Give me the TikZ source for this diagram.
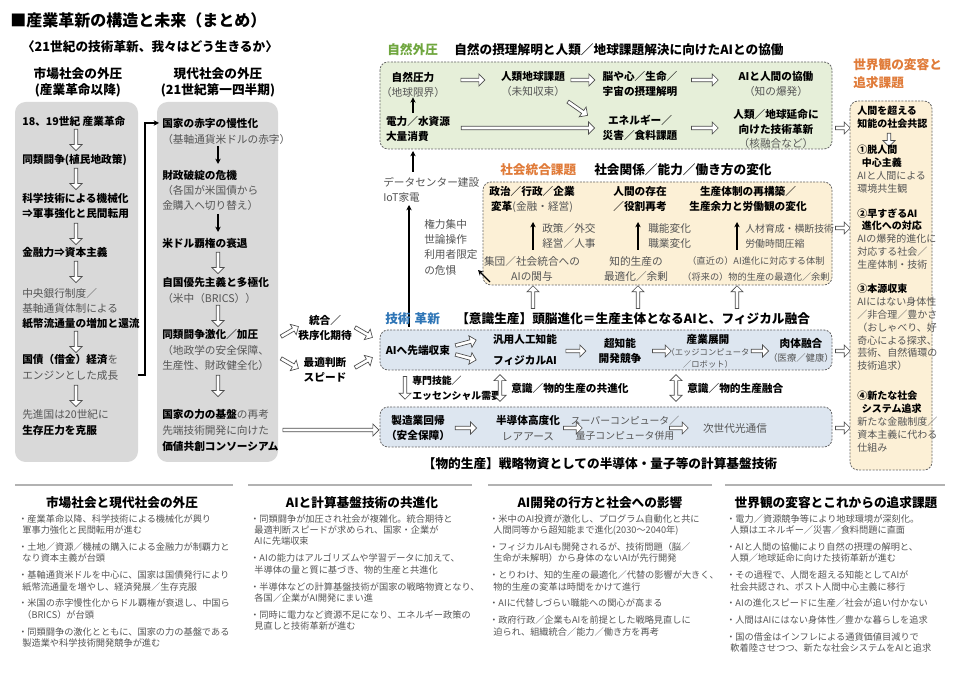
\documentclass[tikz,border=0pt]{standalone}
\usepackage{fontspec}
\setmainfont{Noto Sans CJK JP}
\usetikzlibrary{shapes.arrows,arrows.meta}
\definecolor{tg}{HTML}{555555}
\definecolor{bxg}{HTML}{D9D9D9}
\definecolor{grn}{HTML}{E6EFD9}
\definecolor{org}{HTML}{FCF0D6}
\definecolor{blu}{HTML}{DDE6F0}
\definecolor{hgrn}{HTML}{6FA63E}
\definecolor{horg}{HTML}{E07B39}
\definecolor{hblu}{HTML}{2E75B6}
\tikzset{
 t/.style={inner sep=0,font=\fontsize{8}{11.5}\selectfont},
 b/.style={t,font=\fontsize{8}{11.5}\selectfont\bfseries},
 g/.style={t,text=tg},
 r/.style={inner sep=0,font=\fontsize{7.5}{9.6}\selectfont,align=left,anchor=north west},
 s/.style={inner sep=0,font=\fontsize{6.9}{8.6}\selectfont,text=tg,align=left,anchor=north west},
 hd/.style={inner sep=0,font=\fontsize{9.5}{12}\selectfont\bfseries},
 harrow/.style={single arrow,draw=black!70,fill=white,line width=0.5pt,minimum width=9pt,single arrow head extend=2pt,inner sep=0.6pt,single arrow head indent=0pt},
 dbox/.style={draw=black!60,dashed,dash pattern=on 1.5pt off 1pt,line width=0.6pt,rounded corners=6pt},
 gbox/.style={fill=bxg,rounded corners=8pt},
 barr/.style={-{Stealth[length=4pt,width=4pt]},line width=0.9pt},
 dharrow/.style={double arrow,draw=black!70,fill=white,line width=0.5pt,minimum width=9pt,double arrow head extend=2pt,inner sep=0.6pt,double arrow head indent=0pt,rotate=90},
}
\newcommand\HA[4]{\node[harrow,minimum height=#3,rotate=#4] at (#1,#2) {};}
\begin{document}
\begin{tikzpicture}[x=0.75pt,y=-0.75pt]
\useasboundingbox (0,0) rectangle (960,680);
\fill[white] (0,0) rectangle (960,680);
% titles
\node[anchor=west,inner sep=0,font=\fontsize{12}{14}\selectfont\bfseries] (ttl) at (10,20) {■産業革新の構造と未来（まとめ）};
\node[inner sep=0,font=\fontsize{9.5}{12}\selectfont\bfseries] (sub) at (150,47) {〈21世紀の技術革新、我々はどう生きるか〉};
\node[hd,align=center] (lh) at (78,82) {市場社会の外圧\\(産業革命以降)};
\node[hd,align=center] (mh) at (218,82) {現代社会の外圧\\(21世紀第一四半期)};
% gray boxes
\fill[gbox] (15,102) rectangle (138,462);
\fill[gbox] (157,102) rectangle (278,462);
% left column
\node[b,anchor=west] (l1) at (22,121) {18、19世紀 産業革命};
\HA{76}{139}{16pt}{-90}
\node[b,anchor=west] (l2) at (22,160) {同類闘争(植民地政策)};
\HA{76}{178}{16pt}{-90}
\node[b,anchor=west,align=left] (l3) at (22,206) {科学技術による機械化\\⇒軍事強化と民間転用};
\HA{76}{233}{16pt}{-90}
\node[b,anchor=west] (l4) at (22,252) {金融力⇒資本主義};
\HA{76}{271}{16pt}{-90}
\node[g,anchor=west,align=left] (l5) at (22,301) {中央銀行制度／\\基軸通貨体制による};
\node[b,anchor=west] (l5b) at (22,324) {紙幣流通量の増加と還流};
\HA{76}{341}{16pt}{-90}
\node[t,anchor=west] (l6) at (22,359) {\bfseries 国債（借金）経済\textcolor{tg}{\mdseries を}};
\node[g,anchor=west] (l6b) at (22,375) {エンジンとした成長};
\HA{76}{395}{16pt}{-90}
\node[g,anchor=west] (l7) at (22,414) {先進国は20世紀に};
\node[b,anchor=west] (l7b) at (22,430) {生存圧力を克服};
\draw[barr] (138,375) -- (145,375) -- (145,123) -- (159,123);
% middle column
\node[b,anchor=west] (m1) at (162,123) {国家の赤字の慢性化};
\node[g,anchor=west] (m1b) at (162,139) {（基軸通貨米ドルの赤字）};
\draw[barr] (218,146) -- (218,164);
\node[b,anchor=west] (m2) at (162,175) {財政破綻の危機};
\node[g,anchor=west,align=left] (m2b) at (162,198) {（各国が米国債から\\金購入へ切り替え）};
\draw[barr] (218,214) -- (218,232);
\node[b,anchor=west] (m3) at (162,243) {米ドル覇権の衰退};
\HA{218}{262}{16pt}{-90}
\node[b,anchor=west] (m4) at (162,282) {自国優先主義と多極化};
\node[g,anchor=west] (m4b) at (162,298) {（米中（BRICS））};
\HA{218}{315}{16pt}{-90}
\node[b,anchor=west] (m5) at (162,334) {同類闘争激化／加圧};
\node[g,anchor=west,align=left] (m5b) at (162,358) {（地政学の安全保障、\\生産性、財政健全化）};
\HA{218}{385}{16pt}{-90}
\node[t,anchor=west] (m6) at (162,414) {\bfseries 国家の力の基盤\textcolor{tg}{\mdseries の再考}};
\node[g,anchor=west] (m6b) at (162,430) {先端技術開発に向けた};
\node[b,anchor=west] (m6c) at (162,446) {価値共創コンソーシアム};
% middle connectors
\node[b,align=center] (tg1) at (325,328) {統合／\\秩序化期待};
\node[b,align=center] (tg2) at (325,370) {最適判断\\スピード};
\HA{289}{332}{15pt}{30}
\HA{363}{332}{15pt}{-30}
\HA{289}{363}{15pt}{-30}
\HA{363}{363}{15pt}{30}
\HA{330}{430}{72pt}{0}
% green box
\node[anchor=west,inner sep=0,font=\fontsize{9.5}{12}\selectfont\bfseries,text=hgrn] (gh) at (387,50) {自然外圧};
\node[anchor=west,inner sep=0,font=\fontsize{9.5}{12}\selectfont\bfseries] (gh2) at (454,50) {自然の摂理解明と人類／地球課題解決に向けたAIとの協働};
\draw[dbox,fill=grn] (380,62) rectangle (832,149);
\node[b] (n1) at (413,77) {自然圧力};
\node[g] (n1b) at (413,92) {（地球限界）};
\node[b,align=left] (n2) at (418,129) {電力／水資源\\大量消費};
\draw[barr] (n2.north -| n1) ++(0,-3) -- (n1b.south);
\node[b] (n3) at (533,76) {人類地球課題};
\node[g] (n3b) at (533,91) {（未知収束）};
\node[b,align=center] (n4) at (640,84) {脳や心／生命／\\宇宙の摂理解明};
\node[b] (n5) at (776,76) {AIと人間の協働};
\node[g] (n5b) at (776,91) {（知の爆発）};
\node[b,align=center] (n6) at (640,128) {エネルギー／\\災害／食料課題};
\node[b,align=center] (n7) at (776,122) {人類／地球延命に\\向けた技術革新};
\node[g] (n7b) at (776,143) {（核融合など）};
\HA{472}{80}{18pt}{0}
\HA{582}{80}{18pt}{0}
\HA{704}{80}{20pt}{0}
\HA{577}{108}{18pt}{-35}
\HA{527}{128}{100pt}{0}
\HA{704}{128}{20pt}{0}
\HA{842}{128}{11pt}{0}
% tech arrow up
\draw[barr] (409,327) -- (409,205);
\draw[barr] (413,172) -- (413,151);
\node[g,anchor=west,align=left] (dc) at (383,190) {データセンター建設\\IoT家電};
\node[g,anchor=west,align=left] (kr) at (424,247) {権力集中\\世論操作\\利用者限定\\の危惧};
% orange box
\node[anchor=west,inner sep=0,font=\fontsize{9.5}{12}\selectfont\bfseries,text=horg] (oh) at (500,170) {社会統合課題};
\node[anchor=west,inner sep=0,font=\fontsize{9.5}{12}\selectfont\bfseries] (oh2) at (594,170) {社会関係／能力／働き方の変化};
\draw[dbox,fill=org] (483,182) rectangle (832,285);
\draw[barr] (490,282) -- (478,270);
\node[b] (o1) at (532,191) {政治／行政／企業};
\node[t] (o1b) at (532,207) {\bfseries 変革\textcolor{tg}{\mdseries (金融・経営)}};
\node[b,align=center] (o2) at (640,199) {人間の存在\\／役割再考};
\node[b,align=center] (o3) at (748,199) {生産体制の再構築／\\生産余力と労働観の変化};
\node[g,anchor=west,align=left] (o4) at (542,236) {政策／外交\\経営／人事};
\node[g,anchor=west,align=left] (o5) at (648,236) {職能変化\\職業変化};
\node[g,anchor=west,align=left,font=\fontsize{7.4}{11.5}\selectfont] (o6) at (745,236) {人材育成・横断技術\\労働時間圧縮};
\node[g,align=center] (o7) at (532,269) {集団／社会統合への\\AIの関与};
\node[g,align=center] (o8) at (636,269) {知的生産の\\最適化／余剰};
\node[g,align=center,font=\fontsize{6.9}{11.5}\selectfont] (o9) at (756,269) {（直近の）AI進化に対応する体制\\（将来の）物的生産の最適化／余剰};
\draw[barr] (533,250) -- (533,222);
\draw[barr] (638,250) -- (638,222);
\draw[barr] (737,250) -- (737,222);
\HA{533}{298}{17pt}{90}
\HA{638}{298}{17pt}{90}
\HA{737}{298}{17pt}{90}
\HA{842}{228}{11pt}{0}
% blue box 1
\node[anchor=west,inner sep=0,font=\fontsize{9.5}{12}\selectfont\bfseries,text=hblu] (th) at (385,319) {技術\hspace{3pt}革新};
\node[anchor=west,inner sep=0,font=\fontsize{9.5}{12}\selectfont\bfseries] (th2) at (456,319) {【意識生産】頭脳進化＝生産主体となるAIと、フィジカル融合};
\draw[dbox,fill=blu] (380,330) rectangle (832,370);
\node[b] (t1) at (418,350) {AIへ先端収束};
\node[b,align=center] (t2) at (525,350) {汎用人工知能\\[4pt]フィジカルAI};
\node[b,align=center] (t3) at (620,351) {超知能\\開発競争};
\node[b] (t4) at (708,339) {産業展開};
\node[g,align=center,font=\fontsize{6.2}{9}\selectfont] (t4b) at (708,358) {（エッジコンピュータ\\／ロボット）};
\node[b] (t5) at (801,343) {肉体融合};
\node[g,font=\fontsize{7}{9}\selectfont] (t5b) at (801,358) {（医療／健康）};
\HA{465}{343}{16pt}{15}
\HA{465}{357}{16pt}{-15}
\HA{575}{351}{15pt}{0}
\HA{661}{351}{14pt}{0}
\HA{759}{351}{13pt}{0}
\HA{842}{351}{11pt}{0}
% between
\HA{405}{387}{17pt}{-90}
\node[b,anchor=west,align=left,font=\fontsize{7.4}{11}\selectfont\bfseries] (bw1) at (412,388) {専門技能／\\エッセンシャル需要};
\node[dharrow,minimum height=20pt] (da1) at (500,388) {};
\node[b,anchor=west] (bw2) at (511,388) {意識／物的生産の共進化};
\node[dharrow,minimum height=20pt] (da2) at (676,388) {};
\node[b,anchor=west] (bw3) at (687,388) {意識／物的生産融合};
% blue box 2
\draw[dbox,fill=blu] (380,407) rectangle (832,447);
\node[b,align=center] (p1) at (418,428) {製造業回帰\\（安全保障）};
\node[b] (p2) at (528,420) {半導体高度化};
\node[g] (p2b) at (528,437) {レアアース};
\node[g,align=center,font=\fontsize{7.4}{11}\selectfont] (p3) at (625,428) {スーパーコンピュータ／\\量子コンピュータ併用};
\node[g] (p4) at (735,428) {次世代光通信};
\HA{465}{428}{16pt}{0}
\HA{572}{428}{14pt}{0}
\HA{678}{428}{14pt}{0}
\HA{842}{428}{11pt}{0}
\node[inner sep=0,font=\fontsize{9.5}{12}\selectfont\bfseries] (ph) at (600,464) {【物的生産】戦略物資としての半導体・量子等の計算基盤技術};
% right column
\node[anchor=north west,inner sep=0,font=\fontsize{9.5}{14}\selectfont\bfseries,text=horg,align=left] (rh) at (853,58) {世界観の変容と\\追求課題};
\draw[dbox,fill=org] (850,101) rectangle (932,470);
\node[r,font=\fontsize{7.5}{9.6}\selectfont\bfseries] (r1) at (857,106) {人間を超える\\知能の社会共認};
\HA{889}{139}{10pt}{-90}
\node[r] (r2) at (857,145) {\textbf{①脱人間}\\\textbf{\ \ 中心主義}\\\textcolor{tg}{AIと人間による}\\\textcolor{tg}{環境共生観}};
\node[r] (r3) at (857,208) {\textbf{②早すぎるAI}\\\textbf{\ \ 進化への対応}\\\textcolor{tg}{AIの爆発的進化に}\\\textcolor{tg}{対応する社会／}\\\textcolor{tg}{生産体制・技術}};
\node[r] (r4) at (857,284) {\textbf{③本源収束}\\\textcolor{tg}{AIにはない身体性}\\\textcolor{tg}{／非合理／豊かさ}\\\textcolor{tg}{（おしゃべり、好}\\\textcolor{tg}{奇心による探求、}\\\textcolor{tg}{芸術、自然循環の}\\\textcolor{tg}{技術追求）}};
\node[r] (r5) at (857,391) {\textbf{④新たな社会}\\\textbf{\ \ システム追求}\\\textcolor{tg}{新たな金融制度／}\\\textcolor{tg}{資本主義に代わる}\\\textcolor{tg}{仕組み}};
% bottom
\foreach \a/\c in {15/233,248/472,488/712,725/945}{\draw[gray!60,line width=0.8pt] (\a,485) -- (\c,485);}
\node[hd] (bh1) at (122,503) {市場社会と現代社会の外圧};
\node[hd] (bh2) at (362,503) {AIと計算基盤技術の共進化};
\node[hd] (bh3) at (600,503) {AI開発の行方と社会への影響};
\node[hd] (bh4) at (836,503) {世界観の変容とこれからの追求課題};
\node[s] (c1) at (18,514) {・産業革命以降、科学技術による機械化が興り\\\ \ 軍事力強化と民間転用が進む\\[4pt]・土地／資源／機械の購入による金融力が制覇力と\\\ \ なり資本主義が台頭\\[4pt]・基軸通貨米ドルを中心に、国家は国債発行により\\\ \ 紙幣流通量を増やし、経済発展／生存克服\\[4pt]・米国の赤字慢性化からドル覇権が衰退し、中国ら\\\ \ （BRICS）が台頭\\[4pt]・同類闘争の激化とともに、国家の力の基盤である\\\ \ 製造業や科学技術開発競争が進む};
\node[s] (c2) at (250,514) {・同類闘争が加圧され社会が複雑化。統合期待と\\\ \ 最適判断スピードが求められ、国家・企業が\\\ \ AIに先端収束\\[4pt]・AIの能力はアルゴリズムや学習データに加えて、\\\ \ 半導体の量と質に基づき、物的生産と共進化\\[4pt]・半導体などの計算基盤技術が国家の戦略物資となり、\\\ \ 各国／企業がAI開発にまい進\\[4pt]・同時に電力など資源不足になり、エネルギー政策の\\\ \ 見直しと技術革新が進む};
\node[s] (c3) at (489,514) {・米中のAI投資が激化し、プログラム自動化と共に\\\ \ 人間同等から超知能まで進化(2030～2040年)\\[4pt]・フィジカルAIも開発されるが、技術問題（脳／\\\ \ 生命が未解明）から身体のないAIが先行開発\\[4pt]・とりわけ、知的生産の最適化／代替の影響が大きく、\\\ \ 物的生産の変革は時間をかけて進行\\[4pt]・AIに代替しづらい職能への関心が高まる\\[4pt]・政府行政／企業もAIを前提とした戦略見直しに\\\ \ 迫られ、組織統合／能力／働き方を再考};
\node[s] (c4) at (726,514) {・電力／資源競争等により地球環境が深刻化。\\\ \ 人類はエネルギー／災害／食料問題に直面\\[4pt]・AIと人間の協働により自然の摂理の解明と、\\\ \ 人類／地球延命に向けた技術革新が進む\\[4pt]・その過程で、人間を超える知能としてAIが\\\ \ 社会共認され、ポスト人間中心主義に移行\\[4pt]・AIの進化スピードに生産／社会が追い付かない\\[4pt]・人間はAIにはない身体性／豊かな暮らしを追求\\[4pt]・国の借金はインフレによる通貨価値目減りで\\\ \ 軟着陸させつつ、新たな社会システムをAIと追求};
\end{tikzpicture}
\end{document}
